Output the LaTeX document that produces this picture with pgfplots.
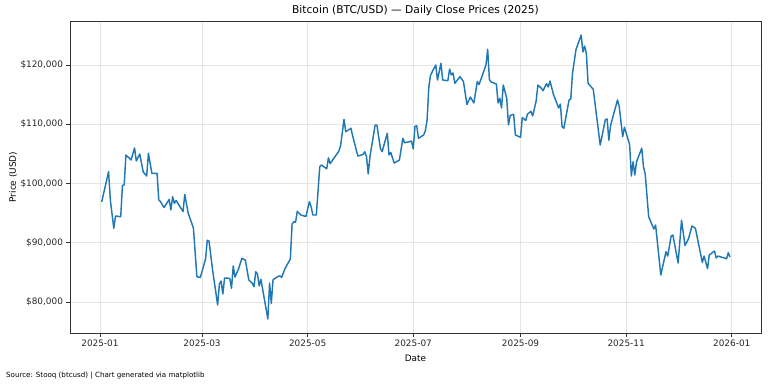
\documentclass[border=0pt]{standalone}
\usepackage{fontspec}
\setmainfont{DejaVu Sans}
\usepackage{pgfplots}
\pgfplotsset{compat=1.18}
\definecolor{mplblue}{HTML}{1F77B4}
\pgfplotstableread{
day price
1 96880
5 102000
6 97220
8 92440
9 94520
12 94400
13 99670
14 99750
15 104810
18 103970
20 106000
21 103800
23 104980
25 101940
27 101270
28 105100
30 101720
33 101720
34 97220
35 96930
37 95950
40 97300
41 95530
42 97780
43 96660
44 97130
48 95280
49 98150
51 94970
54 92490
56 84270
58 84140
61 87260
62 90420
63 90300
65 85570
68 79490
69 83040
70 83550
71 81350
72 84050
75 84000
76 82310
77 86080
78 84220
80 85520
82 87380
83 87210
84 87090
86 83710
88 83160
89 82580
90 85110
91 84730
92 82700
93 83830
97 77130
98 83210
99 79780
100 83760
103 84340
104 84390
105 84170
107 85690
110 87260
111 93170
112 93550
113 93450
114 95310
116 94690
119 94430
121 96930
122 96090
123 94690
125 94690
127 102870
128 103130
131 102480
132 104340
133 103350
138 105460
139 106330
141 110840
142 108750
145 109320
146 108020
149 104640
152 104900
153 105370
154 104530
155 101610
156 104560
159 109880
160 109880
162 105950
163 105370
166 108480
167 104810
168 105240
170 103460
173 103970
175 107630
176 106890
179 107060
180 107180
181 105830
182 109620
183 109760
184 107630
187 108190
188 108920
189 110720
190 116340
191 118320
194 120000
195 117470
197 120290
198 117470
201 117360
202 119330
203 118320
204 118660
205 116920
208 118030
210 117220
212 113340
214 114600
216 113590
218 117220
219 116710
221 118320
223 120000
224 122660
225 117520
226 117140
229 116800
230 113590
231 114380
232 112750
233 116630
235 114380
236 109880
237 111480
239 111680
240 108190
243 107800
244 111140
246 110640
247 111730
249 112190
250 111400
252 113930
253 116630
255 116070
256 115670
258 116850
259 116290
260 117300
262 115030
265 112750
266 113420
267 109590
268 109320
271 114100
272 114270
273 118600
275 122590
278 125070
279 122200
280 123210
281 121980
282 116920
285 115900
289 106500
292 110810
293 110890
294 107300
295 109790
299 114100
300 112970
302 107900
303 109490
306 106590
307 101270
308 103680
309 101440
310 103680
313 105950
314 102840
315 101610
317 94400
320 92320
321 93000
324 84560
327 88490
328 87760
330 91140
331 91310
334 86580
336 93790
338 89540
340 90670
342 92830
344 92440
348 86670
349 87760
351 85620
352 87930
355 88610
356 87430
357 87760
362 87310
363 88320
364 87600
}\btcdata
\begin{document}
\begin{tikzpicture}
\path[use as bounding box] (-70bp,-53bp) rectangle (698bp,333bp);
\begin{axis}[
  at={(0,0)}, anchor=south west,
  scale only axis, width=691bp, height=312bp,
  xmin=-17.3, xmax=381.9, ymin=74770, ymax=127430,
  scaled y ticks=false, scaled x ticks=false,
  xtick={0,59,120,181,243,304,365},
  xticklabels={2025-01,2025-03,2025-05,2025-07,2025-09,2025-11,2026-01},
  ytick={80000,90000,100000,110000,120000},
  yticklabels={{\$80,000},{\$90,000},{\$100,000},{\$110,000},{\$120,000}},
  tick align=outside, major tick length=3.5bp, tick pos=left,
  tick style={black!80, line width=0.8bp},
  axis line style={black!80, line width=0.8bp},
  grid=major, major grid style={black!10, line width=0.8bp},
  ticklabel style={font=\fontsize{8.9bp}{10.7bp}\selectfont, text=black!85},
  /pgf/number format/assume math mode=true,
]
\addplot[mplblue, line width=1.45bp, line join=round] table[x=day, y=price] {\btcdata};
\end{axis}
\node[font=\fontsize{10.7bp}{12.8bp}\selectfont] at (345.5bp,322bp) {Bitcoin (BTC/USD) — Daily Close Prices (2025)};
\node[font=\fontsize{8.9bp}{10.7bp}\selectfont] at (345.5bp,-25bp) {Date};
\node[font=\fontsize{8.9bp}{10.7bp}\selectfont, rotate=90] at (-57bp,156bp) {Price (USD)};
\node[font=\fontsize{7.1bp}{8.5bp}\selectfont, anchor=west, inner sep=0pt] at (-64bp,-43bp) {Source: Stooq (btcusd) | Chart generated via matplotlib};
\end{tikzpicture}
\end{document}
